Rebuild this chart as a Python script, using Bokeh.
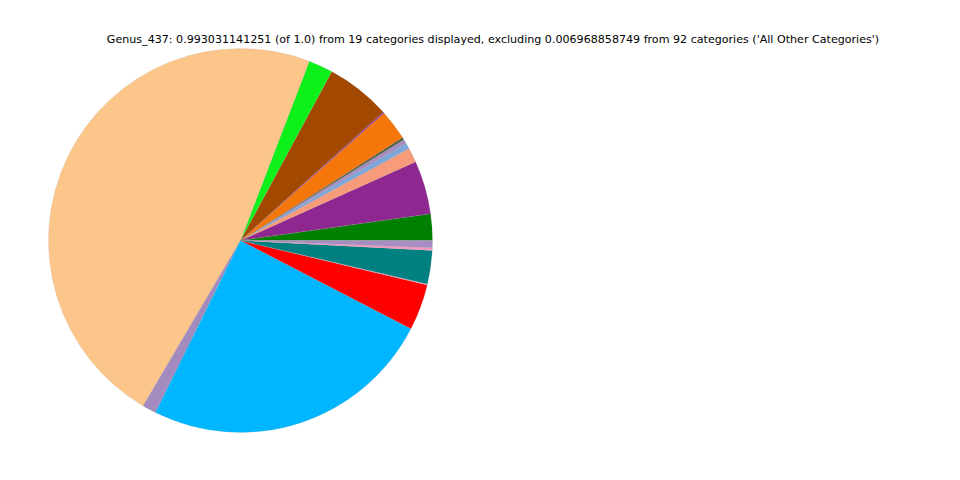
import numpy as np
from bokeh.plotting import figure
from bokeh.models import Range1d, ColumnDataSource
from bokeh.core.properties import value
from bokeh.embed import file_html
from bokeh.resources import INLINE

title_text = ("Genus_437: 0.993031141251 (of 1.0) from 19 categories displayed, "
              "excluding 0.006968858749 from 92 categories ('All Other Categories')")

categories = [f"Category {i}" for i in range(1, 20)]
values = [0.02207, 0.04469, 0.01214, 0.00497, 0.00359, 0.00138, 0.00055,
          0.02538, 0.00110, 0.05406, 0.02041, 0.47030, 0.01159, 0.24522,
          0.03862, 0.00083, 0.02786, 0.00221, 0.00607]
colors = ["#008000", "#8E278F", "#F89B7A", "#7EA6D9", "#A78BC3", "#3B5A1E",
          "#222222", "#F5760A", "#8E278F", "#A34800", "#0EF01A", "#FCC68A",
          "#A38BC0", "#00B7FF", "#FF0000", "#F49AC1", "#008080", "#F49AC1",
          "#A88CC4"]

W, H = 944, 464
vals = np.array(values)
cum = np.cumsum(vals) / vals.sum() * 2 * np.pi
starts = np.concatenate([[0.0], cum[:-1]])
src = ColumnDataSource(dict(cat=categories, start=starts, end=cum, color=colors))

p = figure(width=W, height=H, output_backend="svg", toolbar_location=None,
           x_range=Range1d(0, W), y_range=Range1d(0, H), min_border=0)
p.axis.visible = False
p.grid.visible = False
p.outline_line_color = None

p.wedge(x=240, y=H - 240, radius=192, start_angle="start", end_angle="end",
        fill_color="color", line_color="#999999", line_width=0.3, line_alpha=0.5,
        source=src)

p.text(x=[492.5], y=[H - 39], text=[title_text], text_font=value("DejaVu Sans"),
       text_font_size="11.1px", text_align="center", text_baseline="middle",
       text_color="black")

open("out.html", "w").write(file_html(p, INLINE))
